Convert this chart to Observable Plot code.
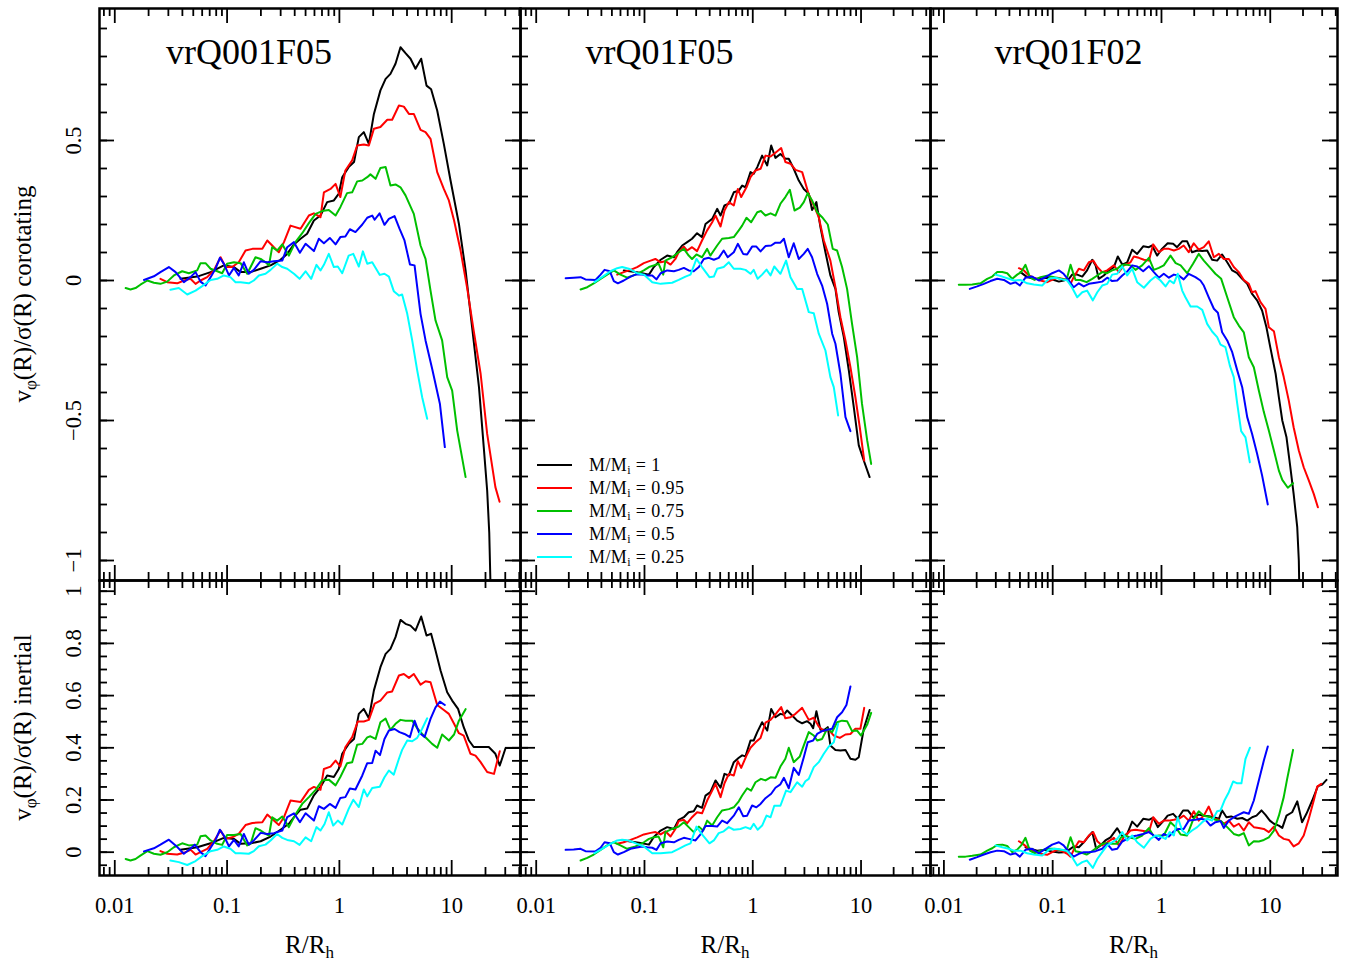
<!DOCTYPE html>
<html><head><meta charset="utf-8">
<script src="https://cdn.jsdelivr.net/npm/d3@7"></script>
<script src="https://cdn.jsdelivr.net/npm/@observablehq/plot@0.6"></script>
<style>
body{margin:0;background:#fff;}
#chart{position:relative;width:1352px;height:961px;background:#fff;font-family:"Liberation Serif",serif;overflow:hidden;}
.panel{position:absolute;}
#overlay{position:absolute;left:0;top:0;}
</style></head><body><div id="chart"></div>
<script>
// ---------- labels / categories ----------
const massFractions = ["1","0.95","0.75","0.5","0.25"];
const seriesColors = ["#000000","#ff0000","#00c000","#0000ff","#00ffff"];
const panelTitles = ["vrQ001F05","vrQ01F05","vrQ01F02"];
const rowTitles = ["corotating","inertial"];
const xMajorTicks = [0.01,0.1,1,10];
const xTickLabels = ["0.01","0.1","1","10"];
const yTopMajor = [-1,-0.5,0,0.5];
const yTopLabels = ["\u22121","\u22120.5","0","0.5"];
const yBottomMajor = [0,0.2,0.4,0.6,0.8,1];
const yBottomLabels = ["0","0.2","0.4","0.6","0.8","1"];

// ---------- data: [R/Rh, v/sigma] ----------
// vrQ001F05 corotating
const tlBlack = [[0.0385,0.006],[0.0542,0.014],[0.0713,0.03],[0.0935,0.054],[0.115,0.048],[0.132,0.03],[0.162,0.03],[0.199,0.042],[0.244,0.054],[0.299,0.074],[0.343,0.095],[0.394,0.129],[0.451,0.149],[0.516,0.167],[0.593,0.214],[0.679,0.232],[0.778,0.28],[0.893,0.286],[0.989,0.31],[1.06,0.369],[1.21,0.405],[1.35,0.423],[1.49,0.512],[1.65,0.53],[1.83,0.488],[2.03,0.595],[2.32,0.679],[2.58,0.72],[2.85,0.738],[3.16,0.774],[3.5,0.833],[3.88,0.812],[4.3,0.792],[4.76,0.756],[5.35,0.792],[5.97,0.696],[6.56,0.683],[7.43,0.607],[8.51,0.488],[9.77,0.357],[11.6,0.202],[13.3,0.036],[15.2,-0.167],[17.5,-0.381],[19.3,-0.595],[20.7,-0.75],[21.6,-0.9],[22.5,-1.2]];
const tlRed = [[0.0255,0.006],[0.0293,-0.006],[0.036,-0.01],[0.0412,0],[0.0472,0.006],[0.0524,-0.012],[0.058,0],[0.0665,0.012],[0.0762,0.036],[0.0875,0.083],[0.0968,0.048],[0.111,0.048],[0.127,0.065],[0.146,0.107],[0.168,0.113],[0.206,0.113],[0.228,0.143],[0.261,0.119],[0.289,0.101],[0.321,0.137],[0.367,0.196],[0.451,0.185],[0.535,0.232],[0.593,0.24],[0.679,0.226],[0.728,0.315],[0.834,0.327],[0.925,0.345],[1.02,0.298],[1.13,0.393],[1.3,0.429],[1.44,0.482],[1.65,0.486],[1.83,0.482],[2.03,0.542],[2.32,0.548],[2.67,0.574],[2.95,0.574],[3.39,0.625],[3.75,0.621],[4.16,0.595],[4.6,0.595],[5.28,0.538],[5.85,0.53],[6.48,0.506],[7.43,0.387],[8.51,0.327],[9.44,0.286],[10.5,0.214],[12.0,0.107],[13.7,-0.024],[15.7,-0.179],[18.1,-0.333],[20.7,-0.548],[24.5,-0.738],[26.7,-0.79]];
const tlGreen = [[0.0125,-0.027],[0.0138,-0.032],[0.0153,-0.027],[0.0169,-0.015],[0.0195,0],[0.0223,-0.008],[0.0255,-0.012],[0.0293,-0.004],[0.0336,0.018],[0.0398,0.033],[0.0457,0.026],[0.0542,0.036],[0.058,0.062],[0.0643,0.062],[0.0713,0.042],[0.0817,0.033],[0.0904,0.026],[0.1,0.06],[0.115,0.065],[0.132,0.062],[0.151,0.024],[0.162,0.048],[0.179,0.083],[0.199,0.077],[0.22,0.065],[0.236,0.054],[0.252,0.119],[0.279,0.107],[0.31,0.129],[0.355,0.089],[0.406,0.137],[0.467,0.169],[0.535,0.205],[0.614,0.238],[0.703,0.248],[0.805,0.252],[0.925,0.232],[1.02,0.262],[1.17,0.312],[1.3,0.315],[1.44,0.354],[1.6,0.357],[1.77,0.369],[1.89,0.379],[2.1,0.363],[2.32,0.402],[2.58,0.405],[2.85,0.339],[3.16,0.343],[3.5,0.333],[3.88,0.304],[4.6,0.238],[5.28,0.125],[5.85,0.077],[6.48,-0.036],[7.18,-0.143],[8.22,-0.214],[9.12,-0.345],[10.1,-0.393],[11.2,-0.536],[13.3,-0.702]];
const tlBlue = [[0.0182,0.002],[0.0223,0.015],[0.0255,0.03],[0.0303,0.048],[0.0348,0.03],[0.0412,-0.006],[0.0472,0.012],[0.0524,0.03],[0.058,-0.004],[0.0643,-0.018],[0.0713,0.012],[0.0789,0.042],[0.0863,0.081],[0.0935,0.06],[0.104,0.018],[0.115,0.045],[0.127,0.018],[0.141,0.065],[0.156,0.024],[0.173,0.038],[0.199,0.069],[0.228,0.065],[0.261,0.069],[0.31,0.071],[0.343,0.119],[0.394,0.137],[0.445,0.099],[0.5,0.131],[0.593,0.105],[0.656,0.149],[0.728,0.133],[0.822,0.152],[0.925,0.129],[1.02,0.155],[1.13,0.157],[1.24,0.183],[1.39,0.173],[1.6,0.2],[1.77,0.224],[1.96,0.232],[2.06,0.217],[2.28,0.24],[2.52,0.199],[2.76,0.22],[3.1,0.23],[3.43,0.185],[3.8,0.143],[4.25,0.057],[4.67,0.054],[5.28,-0.119],[5.85,-0.214],[6.7,-0.315],[7.85,-0.44],[8.69,-0.595]];
const tlCyan = [[0.0313,-0.033],[0.0372,-0.027],[0.0442,-0.05],[0.0524,-0.036],[0.06,-0.02],[0.0713,0.002],[0.0817,0.006],[0.0935,0.018],[0.107,0.012],[0.119,-0.006],[0.132,-0.006],[0.156,-0.01],[0.173,0],[0.192,0.018],[0.22,0.024],[0.244,0.038],[0.279,0.06],[0.31,0.048],[0.343,0.042],[0.394,0.024],[0.442,0.006],[0.5,0.033],[0.561,0.006],[0.625,0.056],[0.679,0.036],[0.728,0.056],[0.805,0.095],[0.893,0.048],[0.968,0.05],[1.06,0.026],[1.21,0.089],[1.33,0.095],[1.49,0.05],[1.62,0.104],[1.77,0.06],[1.96,0.065],[2.29,0.02],[2.52,0.024],[2.76,0.014],[3.05,-0.038],[3.39,-0.054],[3.62,-0.05],[4.02,-0.119],[4.45,-0.214],[4.93,-0.321],[5.46,-0.417],[6.05,-0.494]];
// vrQ001F05 inertial
const blBlack = [[0.0385,0.009],[0.0542,0.019],[0.0713,0.034],[0.0935,0.055],[0.115,0.051],[0.132,0.032],[0.162,0.034],[0.199,0.042],[0.244,0.06],[0.299,0.086],[0.355,0.109],[0.406,0.141],[0.451,0.163],[0.516,0.167],[0.593,0.218],[0.679,0.25],[0.778,0.294],[0.893,0.288],[0.989,0.32],[1.06,0.377],[1.21,0.415],[1.35,0.434],[1.49,0.53],[1.65,0.549],[1.83,0.513],[2.03,0.62],[2.32,0.709],[2.58,0.76],[2.85,0.779],[3.16,0.824],[3.5,0.89],[3.88,0.875],[4.3,0.868],[4.76,0.849],[5.35,0.903],[5.97,0.83],[6.56,0.837],[7.18,0.773],[7.96,0.696],[9.12,0.613],[10.1,0.581],[11.4,0.549],[12.8,0.479],[14.2,0.429],[15.7,0.403],[18.1,0.403],[21.4,0.403],[24.5,0.377],[26.8,0.332],[30.2,0.399],[45,0.399]];
const blRed = [[0.0255,0.004],[0.0293,-0.006],[0.036,-0.009],[0.0425,0],[0.0475,0.009],[0.0524,-0.009],[0.058,0],[0.0665,0.013],[0.0762,0.042],[0.0875,0.083],[0.0968,0.051],[0.111,0.057],[0.127,0.07],[0.146,0.104],[0.168,0.112],[0.206,0.115],[0.228,0.144],[0.261,0.121],[0.289,0.104],[0.321,0.134],[0.367,0.198],[0.451,0.192],[0.535,0.239],[0.593,0.25],[0.679,0.239],[0.728,0.319],[0.834,0.328],[0.925,0.351],[1.02,0.328],[1.13,0.402],[1.3,0.441],[1.46,0.501],[1.65,0.501],[1.83,0.507],[2.06,0.569],[2.32,0.581],[2.67,0.612],[2.95,0.616],[3.39,0.677],[3.75,0.683],[4.16,0.668],[4.6,0.683],[5.28,0.642],[5.85,0.655],[6.48,0.651],[7.43,0.564],[8.51,0.545],[9.44,0.53],[10.5,0.492],[11.6,0.456],[12.8,0.447],[14.7,0.377],[16.3,0.37],[18.1,0.345],[20.7,0.307],[23.8,0.3],[26.8,0.387]];
const blGreen = [[0.0125,-0.026],[0.0138,-0.032],[0.0153,-0.026],[0.0169,-0.013],[0.0195,0.004],[0.0223,-0.006],[0.0255,-0.01],[0.0293,0],[0.0336,0.019],[0.0398,0.034],[0.0457,0.026],[0.0542,0.029],[0.058,0.061],[0.0643,0.064],[0.0713,0.045],[0.0817,0.032],[0.0904,0.028],[0.1,0.066],[0.115,0.066],[0.132,0.07],[0.151,0.026],[0.162,0.032],[0.179,0.092],[0.199,0.083],[0.22,0.07],[0.236,0.064],[0.252,0.134],[0.279,0.121],[0.31,0.137],[0.355,0.096],[0.406,0.144],[0.467,0.185],[0.535,0.211],[0.614,0.239],[0.703,0.275],[0.805,0.278],[0.925,0.256],[1.02,0.288],[1.17,0.341],[1.3,0.345],[1.44,0.412],[1.6,0.415],[1.77,0.44],[1.89,0.444],[2.1,0.434],[2.32,0.498],[2.58,0.512],[2.85,0.469],[3.16,0.492],[3.5,0.507],[3.88,0.504],[4.45,0.504],[4.93,0.475],[5.46,0.453],[6.05,0.434],[6.7,0.415],[7.43,0.4],[8.22,0.451],[9.44,0.428],[10.5,0.451],[11.6,0.504],[13.3,0.548]];
const blBlue = [[0.0182,0.003],[0.0223,0.015],[0.0255,0.029],[0.0303,0.048],[0.0348,0.026],[0.0412,-0.006],[0.0472,0.013],[0.0516,0.029],[0.058,0],[0.0643,-0.015],[0.0713,0.017],[0.0789,0.047],[0.0863,0.086],[0.0935,0.064],[0.104,0.022],[0.115,0.047],[0.127,0.022],[0.141,0.07],[0.156,0.029],[0.173,0.045],[0.199,0.074],[0.228,0.07],[0.261,0.073],[0.31,0.083],[0.343,0.134],[0.394,0.149],[0.445,0.115],[0.5,0.149],[0.593,0.121],[0.656,0.176],[0.728,0.166],[0.822,0.185],[0.925,0.17],[1.02,0.208],[1.13,0.211],[1.24,0.244],[1.39,0.24],[1.6,0.294],[1.77,0.341],[1.96,0.342],[2.1,0.389],[2.3,0.372],[2.52,0.434],[2.76,0.466],[3.1,0.472],[3.43,0.46],[3.8,0.453],[4.25,0.441],[4.67,0.504],[5.1,0.46],[5.73,0.441],[6.48,0.511],[7.18,0.555],[7.85,0.577],[8.69,0.564]];
const blCyan = [[0.0313,-0.032],[0.0372,-0.038],[0.0442,-0.049],[0.0524,-0.034],[0.06,-0.015],[0.0713,0.004],[0.0817,0.009],[0.0935,0.022],[0.107,0.013],[0.119,-0.004],[0.132,-0.004],[0.156,-0.006],[0.173,0.004],[0.192,0.023],[0.22,0.029],[0.244,0.045],[0.279,0.07],[0.31,0.055],[0.343,0.047],[0.394,0.042],[0.442,0.028],[0.5,0.057],[0.561,0.042],[0.625,0.096],[0.679,0.083],[0.738,0.108],[0.805,0.153],[0.881,0.102],[0.968,0.121],[1.06,0.106],[1.21,0.166],[1.33,0.201],[1.49,0.173],[1.65,0.24],[1.77,0.214],[1.96,0.246],[2.29,0.251],[2.52,0.287],[2.76,0.313],[3.05,0.297],[3.39,0.358],[3.62,0.392],[4.02,0.428],[4.45,0.425],[4.93,0.438],[5.46,0.473],[6.05,0.513]];
// vrQ01F05 corotating
const tmBlack = [[0.0644,0.036],[0.0826,0.03],[0.0951,0.026],[0.11,0.021],[0.122,0.048],[0.141,0.074],[0.162,0.089],[0.187,0.083],[0.2,0.101],[0.223,0.125],[0.248,0.137],[0.275,0.149],[0.306,0.169],[0.34,0.155],[0.366,0.202],[0.422,0.22],[0.469,0.256],[0.504,0.232],[0.548,0.268],[0.601,0.274],[0.668,0.315],[0.743,0.321],[0.798,0.339],[0.857,0.333],[0.953,0.387],[1.02,0.381],[1.1,0.405],[1.22,0.446],[1.36,0.411],[1.48,0.482],[1.62,0.438],[1.8,0.452],[2.0,0.435],[2.15,0.435],[2.39,0.399],[2.66,0.357],[2.96,0.327],[3.29,0.31],[3.53,0.252],[3.87,0.28],[4.22,0.19],[4.69,0.101],[5.21,0.018],[5.8,-0.03],[6.22,-0.113],[6.93,-0.202],[7.71,-0.321],[8.57,-0.452],[9.53,-0.589],[10.6,-0.643],[12.0,-0.702]];
const tmRed = [[0.056,0.021],[0.0644,0.03],[0.0743,0.038],[0.0855,0.048],[0.0986,0.062],[0.114,0.071],[0.126,0.077],[0.141,0.065],[0.156,0.069],[0.174,0.057],[0.193,0.077],[0.207,0.101],[0.231,0.121],[0.248,0.107],[0.275,0.119],[0.306,0.105],[0.34,0.143],[0.379,0.179],[0.422,0.208],[0.453,0.232],[0.504,0.193],[0.548,0.25],[0.601,0.28],[0.668,0.268],[0.728,0.327],[0.782,0.298],[0.875,0.333],[0.953,0.369],[1.06,0.393],[1.18,0.399],[1.31,0.446],[1.46,0.443],[1.62,0.456],[1.83,0.473],[2.0,0.423],[2.23,0.417],[2.48,0.395],[2.86,0.387],[3.29,0.307],[3.66,0.268],[4.07,0.226],[4.53,0.143],[5.21,0.071],[5.8,-0.024],[6.45,-0.131],[7.18,-0.214],[7.98,-0.31],[8.87,-0.417],[9.73,-0.524],[10.7,-0.643]];
const tmGreen = [[0.0257,-0.032],[0.0296,-0.024],[0.034,-0.01],[0.0393,0.006],[0.0452,0.021],[0.0521,0.036],[0.06,0.021],[0.0692,0.01],[0.0826,0.021],[0.0986,0.036],[0.11,0.048],[0.122,0.054],[0.135,0.06],[0.149,0.021],[0.156,0.071],[0.18,0.083],[0.207,0.101],[0.231,0.113],[0.256,0.089],[0.275,0.077],[0.302,0.093],[0.34,0.083],[0.379,0.113],[0.406,0.089],[0.469,0.125],[0.521,0.149],[0.601,0.152],[0.668,0.155],[0.743,0.179],[0.798,0.196],[0.875,0.224],[0.966,0.208],[1.1,0.244],[1.19,0.248],[1.31,0.232],[1.46,0.24],[1.62,0.232],[1.8,0.274],[2.0,0.298],[2.2,0.324],[2.43,0.25],[2.72,0.26],[2.96,0.28],[3.22,0.312],[3.53,0.286],[3.93,0.244],[4.37,0.226],[4.93,0.2],[5.48,0.113],[6.01,0.107],[6.68,0.048],[7.43,-0.03],[8.26,-0.155],[9.2,-0.274],[10.2,-0.44],[11.4,-0.571],[12.4,-0.655]];
const tmBlue = [[0.0187,0.008],[0.0222,0.01],[0.0257,0.012],[0.0285,0.004],[0.0353,0.002],[0.0393,0.021],[0.0428,0.038],[0.0479,0.033],[0.0521,-0.002],[0.0568,-0.01],[0.0644,0],[0.0743,0.014],[0.0826,0.021],[0.0951,0.021],[0.106,0.018],[0.118,0.018],[0.129,0.004],[0.141,0.026],[0.162,0.036],[0.187,0.033],[0.207,0.038],[0.231,0.045],[0.256,0.036],[0.285,0.033],[0.318,0.048],[0.353,0.077],[0.393,0.081],[0.437,0.074],[0.485,0.081],[0.539,0.107],[0.587,0.083],[0.668,0.101],[0.728,0.131],[0.815,0.095],[0.887,0.093],[0.986,0.121],[1.08,0.121],[1.18,0.104],[1.31,0.123],[1.48,0.125],[1.62,0.135],[1.8,0.135],[1.94,0.149],[2.15,0.083],[2.39,0.133],[2.66,0.077],[2.96,0.095],[3.22,0.113],[3.53,0.083],[3.93,0.024],[4.37,-0.018],[4.86,-0.083],[5.41,-0.19],[5.8,-0.226],[6.45,-0.333],[7.18,-0.488],[7.98,-0.538]];
const tmCyan = [[0.0345,-0.006],[0.0406,0.012],[0.0485,0.033],[0.056,0.044],[0.0622,0.048],[0.0716,0.042],[0.0855,0.026],[0.0986,0.021],[0.118,-0.006],[0.141,-0.012],[0.18,-0.008],[0.207,0.002],[0.239,0.014],[0.266,0.021],[0.302,0.077],[0.34,0.048],[0.398,0.012],[0.437,0.014],[0.469,0.042],[0.539,0.048],[0.601,0.065],[0.668,0.042],[0.769,0.042],[0.857,0.038],[0.953,0.024],[1.02,0.038],[1.11,0.006],[1.22,0.021],[1.34,0.039],[1.46,0.018],[1.58,0.05],[1.8,0.024],[2.03,0.071],[2.23,0.012],[2.57,-0.03],[2.86,-0.03],[3.29,-0.113],[3.66,-0.117],[4.07,-0.19],[4.69,-0.25],[5.21,-0.345],[5.6,-0.381],[6.14,-0.482]];
// vrQ01F05 inertial
const bmBlack = [[0.0644,0.045],[0.0826,0.038],[0.0951,0.034],[0.11,0.029],[0.122,0.058],[0.141,0.083],[0.162,0.096],[0.187,0.089],[0.207,0.124],[0.231,0.134],[0.256,0.153],[0.285,0.157],[0.306,0.179],[0.34,0.17],[0.366,0.217],[0.406,0.23],[0.453,0.275],[0.504,0.247],[0.548,0.3],[0.601,0.294],[0.668,0.345],[0.743,0.362],[0.798,0.371],[0.857,0.367],[0.953,0.428],[1.02,0.428],[1.1,0.46],[1.22,0.498],[1.36,0.466],[1.48,0.549],[1.62,0.517],[1.8,0.53],[1.94,0.527],[2.08,0.543],[2.31,0.524],[2.57,0.504],[2.86,0.494],[3.18,0.502],[3.41,0.492],[3.61,0.475],[3.87,0.54],[4.22,0.469],[4.59,0.469],[4.93,0.479],[5.21,0.409],[5.8,0.392],[6.45,0.39],[7.18,0.392],[7.98,0.358],[8.87,0.354],[9.53,0.364],[10.6,0.473],[12.0,0.545]];
const bmRed = [[0.056,0.032],[0.0644,0.038],[0.0743,0.047],[0.0855,0.057],[0.0986,0.068],[0.114,0.074],[0.126,0.077],[0.141,0.068],[0.156,0.08],[0.174,0.06],[0.193,0.089],[0.207,0.119],[0.231,0.124],[0.248,0.111],[0.275,0.134],[0.306,0.153],[0.34,0.149],[0.379,0.198],[0.422,0.236],[0.453,0.262],[0.504,0.211],[0.548,0.264],[0.601,0.3],[0.668,0.294],[0.728,0.349],[0.782,0.323],[0.875,0.37],[0.953,0.4],[1.06,0.421],[1.18,0.438],[1.31,0.496],[1.46,0.507],[1.62,0.528],[1.83,0.556],[2.0,0.513],[2.23,0.517],[2.48,0.53],[2.86,0.553],[3.29,0.507],[3.66,0.515],[4.07,0.482],[4.53,0.464],[5.04,0.469],[5.6,0.447],[6.37,0.438],[7.18,0.451],[7.98,0.453],[8.87,0.473],[9.86,0.473],[10.7,0.553]];
const bmGreen = [[0.0257,-0.032],[0.0296,-0.022],[0.034,-0.009],[0.0393,0.009],[0.0452,0.026],[0.0521,0.038],[0.06,0.026],[0.0692,0.013],[0.0826,0.022],[0.0986,0.038],[0.11,0.051],[0.122,0.057],[0.135,0.06],[0.149,0.019],[0.156,0.077],[0.18,0.089],[0.207,0.098],[0.231,0.115],[0.256,0.096],[0.285,0.077],[0.318,0.098],[0.348,0.083],[0.379,0.121],[0.422,0.102],[0.469,0.134],[0.521,0.16],[0.601,0.165],[0.668,0.172],[0.743,0.195],[0.798,0.217],[0.887,0.245],[0.966,0.236],[1.06,0.268],[1.19,0.281],[1.31,0.275],[1.46,0.287],[1.62,0.285],[1.8,0.328],[2.0,0.358],[2.15,0.4],[2.39,0.345],[2.72,0.367],[2.96,0.409],[3.29,0.46],[3.66,0.447],[3.93,0.428],[4.37,0.434],[4.86,0.473],[5.41,0.46],[6.01,0.498],[6.68,0.504],[7.43,0.502],[8.26,0.464],[9.2,0.466],[10.0,0.447],[11.4,0.489],[12.4,0.534]];
const bmBlue = [[0.0187,0.009],[0.0222,0.01],[0.0257,0.013],[0.0285,0.004],[0.0353,0.003],[0.0393,0.017],[0.0428,0.038],[0.0479,0.034],[0.0521,0],[0.0568,-0.009],[0.0644,0],[0.0743,0.013],[0.0826,0.017],[0.0951,0.022],[0.106,0.019],[0.118,0.017],[0.129,0.009],[0.141,0.034],[0.162,0.041],[0.187,0.038],[0.207,0.047],[0.231,0.055],[0.256,0.051],[0.296,0.045],[0.329,0.068],[0.366,0.1],[0.422,0.1],[0.469,0.098],[0.521,0.121],[0.579,0.111],[0.668,0.14],[0.743,0.172],[0.815,0.138],[0.887,0.14],[0.986,0.179],[1.08,0.172],[1.18,0.185],[1.31,0.207],[1.48,0.224],[1.62,0.247],[1.8,0.26],[1.94,0.285],[2.15,0.245],[2.39,0.323],[2.66,0.296],[2.96,0.364],[3.22,0.421],[3.61,0.428],[3.93,0.453],[4.37,0.464],[4.86,0.469],[5.41,0.473],[6.01,0.517],[6.68,0.536],[7.33,0.564],[7.98,0.635]];
const bmCyan = [[0.0345,-0.004],[0.0406,0.013],[0.0485,0.032],[0.056,0.045],[0.0622,0.048],[0.0716,0.045],[0.0855,0.032],[0.0986,0.022],[0.118,-0.004],[0.141,-0.004],[0.18,0],[0.207,0.013],[0.239,0.026],[0.266,0.034],[0.302,0.098],[0.34,0.068],[0.398,0.034],[0.437,0.045],[0.485,0.073],[0.539,0.08],[0.601,0.096],[0.668,0.086],[0.769,0.089],[0.857,0.096],[0.953,0.089],[1.02,0.109],[1.11,0.086],[1.22,0.102],[1.34,0.14],[1.46,0.134],[1.58,0.178],[1.8,0.178],[2.03,0.236],[2.23,0.23],[2.57,0.268],[2.86,0.251],[3.06,0.272],[3.29,0.281],[3.66,0.326],[4.07,0.345],[4.53,0.377],[5.04,0.405],[5.6,0.421],[6.14,0.492]];
// vrQ01F02 corotating
const trBlack = [[0.0506,0.03],[0.0582,0.012],[0.0671,0.006],[0.0773,0.006],[0.0889,0.01],[0.103,0.002],[0.114,-0.004],[0.126,0],[0.141,0.006],[0.151,0.021],[0.168,0.021],[0.187,0.014],[0.207,0.036],[0.231,0.074],[0.248,0.054],[0.265,0.006],[0.295,0.018],[0.328,0.036],[0.365,0.048],[0.397,0.086],[0.436,0.057],[0.484,0.065],[0.538,0.11],[0.598,0.095],[0.679,0.122],[0.766,0.119],[0.82,0.125],[0.912,0.089],[1.01,0.113],[1.14,0.133],[1.28,0.131],[1.39,0.119],[1.55,0.14],[1.72,0.14],[1.91,0.101],[2.13,0.107],[2.37,0.105],[2.63,0.107],[2.92,0.074],[3.25,0.071],[3.61,0.093],[4.02,0.065],[4.47,0.036],[4.97,0.026],[5.52,0.006],[6.14,-0.012],[6.81,-0.048],[7.57,-0.071],[8.41,-0.107],[9.22,-0.167],[10.0,-0.238],[11.2,-0.333],[12.0,-0.417],[12.9,-0.5],[14.1,-0.56],[15.3,-0.667],[16.4,-0.762],[17.7,-0.881],[18.3,-1.0],[18.7,-1.2]];
const trRed = [[0.0489,0.044],[0.0543,0.036],[0.0604,0.018],[0.0671,0.01],[0.0773,0],[0.0889,-0.006],[0.0989,0.002],[0.11,0.01],[0.122,0.006],[0.136,0.002],[0.146,-0.012],[0.156,0.012],[0.174,0.042],[0.193,0.036],[0.215,0.065],[0.236,0.071],[0.257,0.048],[0.285,0.03],[0.317,0.036],[0.365,0.054],[0.406,0.03],[0.451,0.054],[0.519,0.065],[0.557,0.086],[0.619,0.081],[0.689,0.074],[0.766,0.071],[0.839,0.129],[0.946,0.101],[1.05,0.113],[1.17,0.113],[1.3,0.107],[1.44,0.113],[1.6,0.125],[1.78,0.101],[1.98,0.133],[2.2,0.11],[2.45,0.119],[2.72,0.14],[3.03,0.083],[3.37,0.095],[3.74,0.077],[4.16,0.077],[4.62,0.048],[5.14,0.03],[5.71,0.002],[6.35,-0.012],[6.81,-0.042],[7.31,-0.038],[8.13,-0.077],[9.04,-0.101],[9.7,-0.167],[10.8,-0.181],[12.0,-0.274],[13.3,-0.345],[14.8,-0.429],[16.4,-0.524],[18.3,-0.607],[20.3,-0.667],[22.6,-0.714],[25.1,-0.762],[27.4,-0.81]];
const trGreen = [[0.0137,-0.015],[0.0158,-0.015],[0.0182,-0.014],[0.0217,-0.01],[0.025,0.006],[0.0278,0.014],[0.0309,0.03],[0.0344,0.03],[0.0382,0.026],[0.0425,0.006],[0.0472,0.021],[0.0513,0.03],[0.0562,0.056],[0.0617,0.012],[0.0681,0.002],[0.0773,0.012],[0.0889,0.017],[0.103,0.012],[0.118,0.006],[0.134,0.002],[0.146,0.056],[0.162,0.002],[0.18,0.002],[0.205,-0.006],[0.231,0.006],[0.257,0.018],[0.285,0.03],[0.317,0.026],[0.352,0.036],[0.392,0.042],[0.426,0.054],[0.467,0.057],[0.519,0.054],[0.577,0.038],[0.664,0.054],[0.766,0.081],[0.851,0.038],[0.946,0.045],[1.05,0.054],[1.21,0.089],[1.35,0.062],[1.5,0.054],[1.72,0.026],[1.95,0.06],[2.2,0.095],[2.45,0.071],[2.82,0.044],[3.13,0.024],[3.54,0.006],[4.02,-0.06],[4.62,-0.131],[5.14,-0.161],[5.71,-0.185],[6.35,-0.274],[7.06,-0.31],[7.85,-0.393],[8.73,-0.47],[9.7,-0.536],[10.8,-0.607],[12.0,-0.679],[12.9,-0.712],[14.5,-0.74],[16.2,-0.724]];
const trBlue = [[0.0173,-0.03],[0.0202,-0.021],[0.0233,-0.012],[0.0268,-0.002],[0.0309,0.006],[0.0356,0.002],[0.0409,-0.012],[0.0455,-0.006],[0.0499,-0.018],[0.0562,0.01],[0.0647,0.014],[0.0746,0],[0.0859,0.012],[0.0989,0.026],[0.114,0.036],[0.126,0.024],[0.141,0],[0.156,-0.024],[0.174,-0.01],[0.193,-0.021],[0.215,-0.012],[0.248,-0.008],[0.285,-0.004],[0.317,0.01],[0.352,-0.002],[0.392,0],[0.436,0.018],[0.484,0.032],[0.538,0.054],[0.598,0.05],[0.679,0.033],[0.766,0.051],[0.851,0.03],[0.946,0.01],[1.05,0.024],[1.17,0.01],[1.3,0.021],[1.44,0.018],[1.6,0.004],[1.78,0.024],[2.05,0.012],[2.28,0],[2.45,-0.018],[2.72,-0.06],[3.03,-0.101],[3.3,-0.115],[3.61,-0.185],[4.02,-0.214],[4.47,-0.256],[4.97,-0.321],[5.52,-0.381],[6.14,-0.488],[6.81,-0.548],[7.57,-0.619],[8.41,-0.696],[9.49,-0.8]];
const trCyan = [[0.0298,0.021],[0.0344,0.014],[0.0395,0.006],[0.044,0],[0.0506,0.002],[0.0582,-0.01],[0.0671,-0.014],[0.08,-0.018],[0.0923,0.006],[0.106,0.01],[0.122,0.004],[0.136,0],[0.151,-0.026],[0.168,-0.06],[0.187,-0.042],[0.207,-0.036],[0.234,-0.071],[0.257,-0.042],[0.285,-0.018],[0.317,-0.012],[0.352,0.021],[0.392,0.024],[0.436,0.051],[0.484,0.018],[0.538,0.042],[0.598,-0.006],[0.689,-0.026],[0.792,0],[0.881,0.014],[0.979,0],[1.09,-0.021],[1.19,0],[1.3,-0.01],[1.41,0.024],[1.55,-0.036],[1.66,-0.06],[1.85,-0.093],[2.13,-0.093],[2.37,-0.105],[2.63,-0.155],[2.92,-0.182],[3.25,-0.202],[3.49,-0.229],[3.87,-0.238],[4.25,-0.304],[4.62,-0.345],[4.97,-0.44],[5.4,-0.538],[5.92,-0.56],[6.49,-0.649]];
// vrQ01F02 inertial
const brBlack = [[0.0562,0.019],[0.0625,0.013],[0.0719,0.006],[0.0859,0.009],[0.0989,0.003],[0.114,-0.001],[0.126,0],[0.141,0.009],[0.156,0.022],[0.174,0.019],[0.193,0.038],[0.21,0.057],[0.231,0.077],[0.251,0.013],[0.275,0.026],[0.305,0.045],[0.34,0.057],[0.392,0.092],[0.436,0.06],[0.484,0.07],[0.538,0.117],[0.598,0.098],[0.679,0.128],[0.766,0.124],[0.839,0.132],[0.925,0.096],[1.04,0.119],[1.14,0.14],[1.28,0.147],[1.41,0.128],[1.58,0.16],[1.75,0.16],[1.95,0.134],[2.2,0.144],[2.45,0.14],[2.72,0.138],[3.03,0.134],[3.37,0.128],[3.61,0.16],[3.96,0.134],[4.37,0.137],[4.97,0.128],[5.52,0.131],[6.14,0.121],[6.81,0.134],[7.47,0.14],[8.3,0.16],[9.04,0.143],[9.91,0.121],[10.8,0.109],[12.0,0.102],[12.9,0.093],[14.1,0.14],[15.9,0.153],[17.7,0.195],[19.6,0.115],[21.5,0.147],[24.3,0.198],[27.4,0.253],[30.0,0.259],[32.9,0.277]];
const brRed = [[0.0489,0.042],[0.0543,0.029],[0.0604,0.013],[0.0671,0.004],[0.0773,-0.006],[0.0889,-0.01],[0.0989,0],[0.11,0.009],[0.122,0.004],[0.136,-0.006],[0.146,-0.017],[0.156,0.009],[0.174,0.042],[0.193,0.038],[0.215,0.064],[0.236,0.077],[0.257,0.042],[0.285,0.026],[0.317,0.038],[0.365,0.055],[0.406,0.026],[0.451,0.057],[0.519,0.083],[0.577,0.086],[0.641,0.083],[0.713,0.08],[0.766,0.077],[0.839,0.134],[0.946,0.109],[1.05,0.121],[1.17,0.121],[1.3,0.124],[1.44,0.128],[1.6,0.14],[1.78,0.121],[1.98,0.157],[2.2,0.121],[2.45,0.14],[2.72,0.175],[3.03,0.128],[3.37,0.124],[3.74,0.109],[4.16,0.121],[4.62,0.098],[5.14,0.109],[5.71,0.083],[6.35,0.115],[7.06,0.096],[7.85,0.093],[8.73,0.089],[9.7,0.077],[10.8,0.098],[12.0,0.064],[13.3,0.051],[14.8,0.047],[16.4,0.022],[18.3,0.034],[20.3,0.064],[22.6,0.128],[25.1,0.198],[27.0,0.251],[29.4,0.262]];
const brGreen = [[0.0137,-0.017],[0.0158,-0.017],[0.0182,-0.014],[0.0217,-0.009],[0.025,0.006],[0.0278,0.015],[0.0309,0.028],[0.0344,0.029],[0.0382,0.024],[0.0425,0],[0.0472,0.01],[0.0513,0.026],[0.0562,0.055],[0.0617,0.006],[0.0681,-0.004],[0.0773,0.006],[0.0889,0.013],[0.103,0.013],[0.118,0.009],[0.134,0.006],[0.146,0.057],[0.162,0.004],[0.18,0],[0.205,-0.009],[0.231,0.004],[0.257,0.019],[0.285,0.032],[0.317,0.034],[0.352,0.032],[0.392,0.032],[0.426,0.057],[0.467,0.064],[0.519,0.055],[0.577,0.051],[0.664,0.064],[0.766,0.092],[0.851,0.06],[0.946,0.064],[1.05,0.064],[1.21,0.115],[1.35,0.096],[1.5,0.068],[1.72,0.064],[1.95,0.124],[2.2,0.157],[2.45,0.14],[2.82,0.134],[3.13,0.124],[3.54,0.119],[4.02,0.096],[4.62,0.07],[5.14,0.064],[5.71,0.073],[6.35,0.026],[7.06,0.042],[7.85,0.041],[8.73,0.047],[9.7,0.057],[10.8,0.083],[12.0,0.14],[13.3,0.211],[14.3,0.281],[16.2,0.392]];
const brBlue = [[0.0173,-0.029],[0.0202,-0.019],[0.0233,-0.009],[0.0268,0],[0.0309,0.006],[0.0356,0.004],[0.0409,-0.009],[0.0455,-0.004],[0.0499,-0.017],[0.0562,0.009],[0.0647,0.013],[0.0746,-0.004],[0.0859,0.013],[0.0989,0.029],[0.114,0.038],[0.126,0.026],[0.141,0],[0.156,-0.017],[0.174,-0.006],[0.193,0],[0.215,0],[0.248,0.004],[0.285,0.013],[0.317,0.032],[0.352,0.009],[0.392,0.013],[0.436,0.041],[0.484,0.051],[0.538,0.06],[0.598,0.064],[0.679,0.07],[0.766,0.077],[0.851,0.064],[0.946,0.047],[1.05,0.07],[1.17,0.06],[1.3,0.08],[1.44,0.089],[1.6,0.089],[1.78,0.121],[2.05,0.124],[2.28,0.128],[2.54,0.124],[2.82,0.102],[3.13,0.115],[3.49,0.119],[3.74,0.093],[4.16,0.121],[4.62,0.134],[5.14,0.144],[5.71,0.153],[6.35,0.147],[7.06,0.198],[7.85,0.275],[8.73,0.351],[9.49,0.405]];
const brCyan = [[0.0298,0.026],[0.0344,0.019],[0.0395,0.013],[0.044,0.006],[0.0506,0.006],[0.0582,-0.004],[0.0671,-0.009],[0.08,-0.013],[0.0923,0.009],[0.106,0.013],[0.122,0.009],[0.136,0.004],[0.151,-0.019],[0.168,-0.051],[0.187,-0.038],[0.207,-0.032],[0.234,-0.06],[0.257,-0.026],[0.285,0],[0.317,0.026],[0.352,0.038],[0.392,0.051],[0.436,0.077],[0.484,0.045],[0.538,0.064],[0.598,0.038],[0.689,0.017],[0.792,0.051],[0.881,0.064],[0.979,0.06],[1.09,0.051],[1.19,0.077],[1.3,0.064],[1.41,0.134],[1.55,0.083],[1.72,0.068],[1.91,0.083],[2.13,0.096],[2.37,0.115],[2.63,0.128],[2.92,0.121],[3.25,0.157],[3.49,0.16],[3.79,0.198],[4.16,0.23],[4.56,0.271],[4.97,0.264],[5.43,0.264],[5.92,0.358],[6.49,0.4]];

// ---------- layout ----------
const panelData = [
  [[tlBlack,tlRed,tlGreen,tlBlue,tlCyan],[tmBlack,tmRed,tmGreen,tmBlue,tmCyan],[trBlack,trRed,trGreen,trBlue,trCyan]],
  [[blBlack,blRed,blGreen,blBlue,blCyan],[bmBlack,bmRed,bmGreen,bmBlue,bmCyan],[brBlack,brRed,brGreen,brBlue,brCyan]]
];
const colEdges = [[99,520],[520,930],[930,1337]];
const rowEdges = [[8,580],[580,875]];
const xDomains = [[0.00731,41.0],[0.00716,43.8],[0.00753,41.5]];
const yDomains = [[-1.0714,0.9714],[-0.0893,1.041]];
const titleDx = [66.5,65,64];
const FONT = "Liberation Serif";

const xMinorTicks = [];
[0.001,0.01,0.1,1,10].forEach(b => d3.range(2,10).forEach(m => xMinorTicks.push(m*b)));
const yTopMinor = d3.range(-11,10).map(i => i/10);
const yBottomMinor = d3.range(-2,21).map(i => i/20);

const chart = document.getElementById("chart");

for (let row = 0; row < 2; row++) {
  for (let col = 0; col < 3; col++) {
    const [fl, fr] = colEdges[col], [ft, fb] = rowEdges[row];
    const W = fr - fl, H = fb - ft;
    const mL = col === 0 ? 99 : 14, mR = 14, mT = row === 0 ? 8 : 14, mB = row === 1 ? 50 : 14;
    const xd = xDomains[col];
    const xMinor = xMinorTicks.filter(v => v >= xd[0] && v <= xd[1]);
    const yMajor = row === 0 ? yTopMajor : yBottomMajor;
    const yLabels = row === 0 ? yTopLabels : yBottomLabels;
    const yd = yDomains[row];
    const yMinor = (row === 0 ? yTopMinor : yBottomMinor).filter(v => v >= yd[0] && v <= yd[1]);
    const marks = [];
    panelData[row][col].forEach((s, i) => {
      marks.push(Plot.line(s, {x: d => d[0], y: d => d[1], stroke: seriesColors[i], strokeWidth: 2, clip: true}));
    });
    const tk = 1.8, maj = 15, mnr = 8;
    marks.push(
      Plot.tickX(xMajorTicks, {x: d => d, insetTop: H - maj, strokeWidth: tk}),
      Plot.tickX(xMajorTicks, {x: d => d, insetBottom: H - maj, strokeWidth: tk}),
      Plot.tickX(xMinor, {x: d => d, insetTop: H - mnr, strokeWidth: tk}),
      Plot.tickX(xMinor, {x: d => d, insetBottom: H - mnr, strokeWidth: tk}),
      Plot.tickY(yMajor, {y: d => d, insetRight: W - maj, strokeWidth: tk}),
      Plot.tickY(yMajor, {y: d => d, insetLeft: W - maj, strokeWidth: tk}),
      Plot.tickY(yMinor, {y: d => d, insetRight: W - mnr, strokeWidth: tk}),
      Plot.tickY(yMinor, {y: d => d, insetLeft: W - mnr, strokeWidth: tk}),
      Plot.frame({strokeWidth: 2.5})
    );
    if (row === 1) {
      marks.push(Plot.text(xMajorTicks, {x: d => d, text: (d, i) => xTickLabels[i], frameAnchor: "bottom", dy: 30.5, lineAnchor: "middle", fontSize: 22.5, fontFamily: FONT}));
    }
    if (col === 0) {
      marks.push(Plot.text(yMajor, {y: d => d, text: (d, i) => yLabels[i], frameAnchor: "left", dx: -25.5, rotate: -90, lineAnchor: "middle", textAnchor: "middle", fontSize: 22.5, fontFamily: FONT}));
    }
    if (row === 0) {
      marks.push(Plot.text([panelTitles[col]], {text: d => d, frameAnchor: "top-left", dx: titleDx[col], dy: 55, textAnchor: "start", lineAnchor: "bottom", fontSize: 36, fontFamily: FONT}));
    }
    const svg = Plot.plot({
      width: W + mL + mR, height: H + mT + mB,
      marginLeft: mL, marginRight: mR, marginTop: mT, marginBottom: mB,
      x: {type: "log", domain: xd, axis: null},
      y: {domain: yd, axis: null},
      style: {background: "transparent", overflow: "visible", fontFamily: FONT, maxWidth: "none"},
      marks
    });
    const div = document.createElement("div");
    div.className = "panel";
    div.style.left = (fl - mL) + "px";
    div.style.top = (ft - mT) + "px";
    div.style.width = (W + mL + mR) + "px";
    div.appendChild(svg);
    chart.appendChild(div);
  }
}

// ---------- overlay: axis titles and legend ----------
const NS = "http://www.w3.org/2000/svg";
const ov = document.createElementNS(NS, "svg");
ov.setAttribute("id", "overlay");
ov.setAttribute("width", 1352);
ov.setAttribute("height", 961);
ov.style.fontFamily = FONT;
chart.appendChild(ov);

function addText(parent, attrs, parts) {
  const t = document.createElementNS(NS, "text");
  for (const k in attrs) t.setAttribute(k, attrs[k]);
  parts.forEach(p => {
    const s = document.createElementNS(NS, "tspan");
    s.textContent = p.text;
    if (p.size) s.setAttribute("font-size", p.size);
    if (p.dy) s.setAttribute("dy", p.dy);
    t.appendChild(s);
  });
  parent.appendChild(t);
  return t;
}

rowEdges.forEach(([t, b], r) => {
  const cy = (t + b) / 2;
  addText(ov, {transform: `translate(31,${cy}) rotate(-90)`, "text-anchor": "middle", "font-size": 25, fill: "#000"},
    [{text: "v"}, {text: "\u03c6", size: 17, dy: 5}, {text: "(R)/\u03c3(R) " + rowTitles[r], dy: -5}]);
});
colEdges.forEach(([l, r]) => {
  addText(ov, {x: (l + r) / 2, y: 952.5, "text-anchor": "middle", "font-size": 25, fill: "#000"},
    [{text: "R/R"}, {text: "h", size: 17, dy: 5}]);
});
massFractions.forEach((m, i) => {
  const y = 465 + 23 * i;
  const ln = document.createElementNS(NS, "line");
  ln.setAttribute("x1", 537); ln.setAttribute("x2", 572);
  ln.setAttribute("y1", y); ln.setAttribute("y2", y);
  ln.setAttribute("stroke", seriesColors[i]); ln.setAttribute("stroke-width", 2);
  ov.appendChild(ln);
  addText(ov, {x: 589, y: y + 6, "font-size": 18, fill: "#000", "letter-spacing": "0.4"},
    [{text: "M/M"}, {text: "i", size: 12, dy: 3}, {text: " = " + m, dy: -3}]);
});
</script>
</body></html>
